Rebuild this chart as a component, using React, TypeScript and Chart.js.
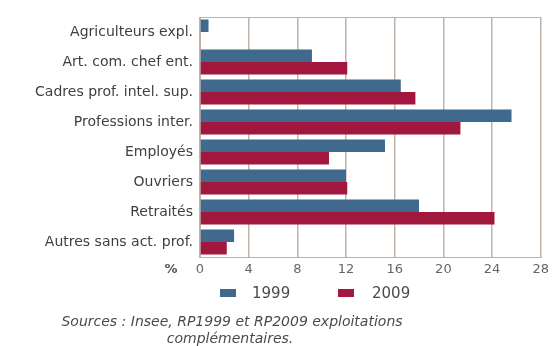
import React, { useEffect, useRef } from "react";
import { Chart, registerables } from "chart.js";

Chart.register(...registerables);

const categories = [
  "Agriculteurs expl.",
  "Art. com. chef ent.",
  "Cadres prof. intel. sup.",
  "Professions inter.",
  "Employés",
  "Ouvriers",
  "Retraités",
  "Autres sans act. prof.",
];
const values1999 = [0.7, 9.2, 16.5, 25.6, 15.2, 12.0, 18.0, 2.8];
const values2009 = [0, 12.1, 17.7, 21.4, 10.6, 12.1, 24.2, 2.2];
const seriesLabels = ["1999", "2009"];
const seriesColors = ["#3f6a8d", "#a1173d"];
const xTickMax = 28;
const xTickStep = 4;
const unitLabel = "%";
const sourceLines = [
  "Sources : Insee, RP1999 et RP2009 exploitations",
  "complémentaires.",
];

const FONT = "'DejaVu Sans', 'Liberation Sans', sans-serif";

const overlayPlugin = {
  id: "overlay",
  beforeDatasetsDraw(chart: any) {
    const { ctx, chartArea } = chart;
    ctx.save();
    ctx.strokeStyle = "#bdb1a8";
    ctx.lineWidth = 1;
    ctx.strokeRect(
      Math.round(chartArea.left) + 0.5,
      Math.round(chartArea.top) + 0.5,
      Math.round(chartArea.right - chartArea.left) - 1,
      Math.round(chartArea.bottom - chartArea.top)
    );
    ctx.restore();
  },
  afterDraw(chart: any) {
    const { ctx } = chart;
    ctx.save();
    ctx.fillStyle = "#555";
    ctx.font = `bold 13px ${FONT}`;
    ctx.textAlign = "center";
    ctx.textBaseline = "middle";
    ctx.fillText(unitLabel, 171, 270);

    const legendY = 293;
    const items = [
      { x: 220, tx: 252 },
      { x: 338, tx: 372 },
    ];
    ctx.font = `15px ${FONT}`;
    ctx.textAlign = "left";
    seriesLabels.forEach((lab, i) => {
      ctx.fillStyle = seriesColors[i];
      ctx.fillRect(items[i].x, legendY - 4, 16, 8);
      ctx.fillStyle = "#4a4a4a";
      ctx.fillText(lab, items[i].tx, legendY + 1);
    });

    ctx.font = `italic 14px ${FONT}`;
    ctx.fillStyle = "#4a4a4a";
    ctx.textAlign = "center";
    ctx.fillText(sourceLines[0], 232, 322);
    ctx.fillText(sourceLines[1], 230, 339);
    ctx.restore();
  },
};

export default function App() {
  const ref = useRef<HTMLCanvasElement | null>(null);
  useEffect(() => {
    if (!ref.current) return;
    const chart = new Chart(ref.current, {
      type: "bar",
      data: {
        labels: categories,
        datasets: [
          {
            label: seriesLabels[0],
            data: values1999,
            backgroundColor: seriesColors[0],
            categoryPercentage: 0.84,
            barPercentage: 1,
          },
          {
            label: seriesLabels[1],
            data: values2009,
            backgroundColor: seriesColors[1],
            categoryPercentage: 0.84,
            barPercentage: 1,
          },
        ],
      },
      options: {
        indexAxis: "y",
        animation: false,
        responsive: false,
        layout: { padding: { left: 0, top: 17, right: 11, bottom: 67 } },
        plugins: {
          legend: { display: false },
          tooltip: { enabled: false },
        },
        scales: {
          x: {
            min: 0,
            max: xTickMax,
            ticks: {
              stepSize: xTickStep,
              color: "#666",
              font: { family: FONT, size: 13 },
              padding: 5,
            },
            grid: { color: "#bfb3aa", lineWidth: 1.5, tickLength: 0 },
            border: { display: true, color: "#a89d95" },
            afterFit: (s: any) => {
              s.height = 22;
            },
          },
          y: {
            ticks: {
              color: "#3f3f3f",
              font: { family: FONT, size: 14 },
              padding: 7,
            },
            grid: { display: false, tickLength: 0 },
            border: { display: true, color: "#8a8a8a" },
            afterFit: (s: any) => {
              s.width = 200;
            },
          },
        },
      },
      plugins: [overlayPlugin],
    });
    return () => chart.destroy();
  }, []);
  return (
    <div style={{ position: "absolute", left: 0, top: 0, width: 554, height: 346, background: "#fff" }}>
      <canvas ref={ref} width={554} height={346} style={{ width: 554, height: 346 }} />
    </div>
  );
}
